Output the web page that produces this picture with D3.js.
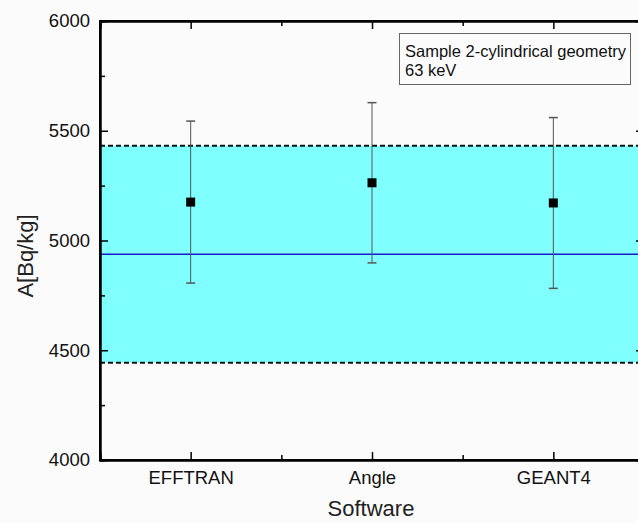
<!DOCTYPE html>
<html><head><meta charset="utf-8">
<script src="https://cdn.jsdelivr.net/npm/d3@7"></script>
<style>
body{margin:0;background:#fbfbfb;}
svg{display:block;font-family:"Liberation Sans",Arial,sans-serif;}
</style></head>
<body><svg id="c" width="638" height="523"></svg>
<script>
const categories = ["EFFTRAN", "Angle", "GEANT4"];
const values = [5175, 5263, 5171];
const errors = [369, 365, 389];
const meanValue = 4937;
const bandLow = 4443;
const bandHigh = 5432;
const yTicks = [4000, 4500, 5000, 5500, 6000];
const yMinorTicks = [4250, 4750, 5250, 5750];
const legendLines = ["Sample 2-cylindrical geometry", "63 keV"];

const svg = d3.select("#c");
const L = 100, R = 644, T = 21, B = 460;
const x = d3.scaleLinear().domain([0.5, 3.5]).range([L, R]);
const y = d3.scaleLinear().domain([4000, 6000]).range([B, T]);

// band
svg.append("rect").attr("x", L).attr("y", y(bandHigh)).attr("width", R - L)
  .attr("height", y(bandLow) - y(bandHigh)).attr("fill", "#80ffff");
[bandHigh, bandLow].forEach(v => {
  svg.append("line").attr("x1", L).attr("x2", R).attr("y1", y(v)).attr("y2", y(v))
    .attr("stroke", "#111").attr("stroke-width", 2).attr("stroke-dasharray", "5,3");
});
svg.append("line").attr("x1", L).attr("x2", R).attr("y1", y(meanValue)).attr("y2", y(meanValue))
  .attr("stroke", "#1a1acc").attr("stroke-width", 1.5);

// error bars
const g = svg.append("g");
categories.forEach((c, i) => {
  const cx = x(i + 1);
  g.append("line").attr("x1", cx).attr("x2", cx).attr("y1", y(values[i] + errors[i])).attr("y2", y(values[i] - errors[i]))
    .attr("stroke", "#555").attr("stroke-width", 1);
  [values[i] + errors[i], values[i] - errors[i]].forEach(v => {
    g.append("line").attr("x1", cx - 4.5).attr("x2", cx + 4.5).attr("y1", y(v)).attr("y2", y(v))
      .attr("stroke", "#555").attr("stroke-width", 1.5);
  });
  g.append("rect").attr("x", cx - 4.5).attr("y", y(values[i]) - 4.5).attr("width", 9).attr("height", 9).attr("fill", "#000");
});

// axes
const axL = d3.axisLeft(y).tickValues(yTicks).tickSizeInner(-8).tickSizeOuter(0).tickPadding(10).tickFormat(d3.format("d"));
const gl = svg.append("g").attr("transform", `translate(${L},0)`).call(axL);
gl.selectAll("text").attr("font-size", 18.5).attr("fill", "#111");
const axLm = d3.axisLeft(y).tickValues(yMinorTicks).tickSize(-5).tickFormat("");
svg.append("g").attr("transform", `translate(${L},0)`).call(axLm);
const axR = d3.axisRight(y).tickValues(yTicks).tickSize(-8).tickFormat("");
svg.append("g").attr("transform", `translate(${R},0)`).call(axR);
const axRm = d3.axisRight(y).tickValues(yMinorTicks).tickSize(-5).tickFormat("");
svg.append("g").attr("transform", `translate(${R},0)`).call(axRm);

const axB = d3.axisBottom(x).tickValues([1, 2, 3]).tickSize(-8).tickPadding(11)
  .tickFormat(d => categories[d - 1]);
const gb = svg.append("g").attr("transform", `translate(0,${B})`).call(axB);
gb.selectAll("text").attr("font-size", 18.5).attr("fill", "#111");
const axBm = d3.axisBottom(x).tickValues([1.5, 2.5]).tickSize(-5).tickFormat("");
svg.append("g").attr("transform", `translate(0,${B})`).call(axBm);
const axT = d3.axisTop(x).tickValues([1, 2, 3]).tickSize(-8).tickFormat("");
svg.append("g").attr("transform", `translate(0,${T})`).call(axT);
const axTm = d3.axisTop(x).tickValues([1.5, 2.5]).tickSize(-5).tickFormat("");
svg.append("g").attr("transform", `translate(0,${T})`).call(axTm);

svg.selectAll(".domain").attr("stroke", "#000").attr("stroke-width", 2);
svg.selectAll(".tick line").attr("stroke", "#000").attr("stroke-width", 1.5);

// frame
svg.append("rect").attr("x", L).attr("y", T).attr("width", R - L).attr("height", B - T)
  .attr("fill", "none").attr("stroke", "#000").attr("stroke-width", 2);

// labels
svg.append("text").attr("x", 371).attr("y", 516).attr("text-anchor", "middle")
  .attr("font-size", 22).attr("fill", "#222").text("Software");
svg.append("text").attr("transform", "translate(33,256) rotate(-90)").attr("text-anchor", "middle")
  .attr("font-size", 22).attr("fill", "#222").text("A[Bq/kg]");

// legend
svg.append("rect").attr("x", 399.5).attr("y", 33.5).attr("width", 231).attr("height", 51)
  .attr("fill", "#fbfbfb").attr("stroke", "#666").attr("stroke-width", 1);
legendLines.forEach((t, i) => {
  svg.append("text").attr("x", 405).attr("y", 57 + i * 18.5).attr("font-size", 16.5).attr("fill", "#111").text(t);
});
</script></body></html>
